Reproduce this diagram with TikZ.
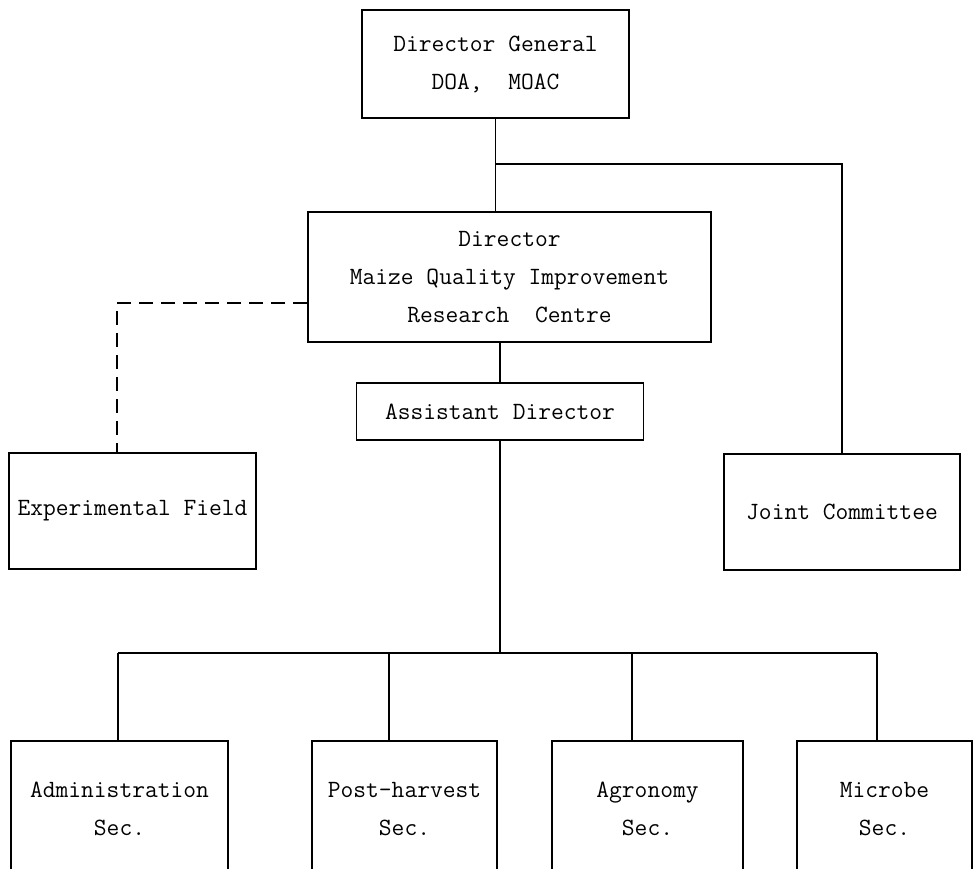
\documentclass[tikz,border=0pt]{standalone}
\usepackage{fontspec}
\usetikzlibrary{positioning}

\begin{document}
\begin{tikzpicture}[x=0.5pt, y=-0.5pt, line width=0.9pt,
    unit/.style={draw, align=center, inner sep=0pt, font=\ttfamily\fontsize{12.4}{19}\selectfont},
    sec/.style={unit, anchor=north, minimum height=68pt}]
    \useasboundingbox (0,0) rectangle (977,868);
    \node[unit, minimum width=133.5pt, minimum height=54pt] (dg) at (495.5,64) {Director General\\DOA,\ \ MOAC};
    \node[unit, minimum width=201.5pt, minimum height=65pt] (dir) at (509.5,277) {Director\\Maize Quality Improvement\\Research\ \ Centre};
    \node[unit, minimum width=143.5pt, minimum height=28.5pt] (ad) at (500,411.5) {Assistant Director};
    \node[unit, minimum width=123.5pt, minimum height=58pt] (ef) at (132.5,511) {Experimental Field};
    \node[unit, minimum width=118pt, minimum height=58pt] (jc) at (842,512) {Joint Committee};
    \node[sec, minimum width=108.5pt] (adm) at (119.5,740) {Administration\\Sec.};
    \node[sec, minimum width=92.5pt] (post) at (404.5,740) {Post-harvest\\Sec.};
    \node[sec, minimum width=95.5pt] (agro) at (647.5,740) {Agronomy\\Sec.};
    \node[sec, minimum width=87.5pt] (micro) at (884.5,740) {Microbe\\Sec.};
    \coordinate (br) at (495.5,164);
    \coordinate (dl) at (117,303);
    \coordinate (b1) at (118,653);
    \coordinate (b2) at (389,653);
    \coordinate (b3) at (632,653);
    \coordinate (b4) at (877,653);
    \draw (dg.south) -- (dg.south |- dir.north);
    \draw (br) -| (jc.north);
    \draw[dash pattern=on 7pt off 4pt] (dir.west |- dl) -- (dl) -- (dl |- ef.north);
    \draw (ad.north |- dir.south) -- (ad.north);
    \draw (ad.south) -- (ad.south |- b1);
    \draw (b1) -- (b4);
    \draw (b1) -- (b1 |- adm.north);
    \draw (b2) -- (b2 |- post.north);
    \draw (b3) -- (b3 |- agro.north);
    \draw (b4) -- (b4 |- micro.north);
  \end{tikzpicture}
\end{document}
